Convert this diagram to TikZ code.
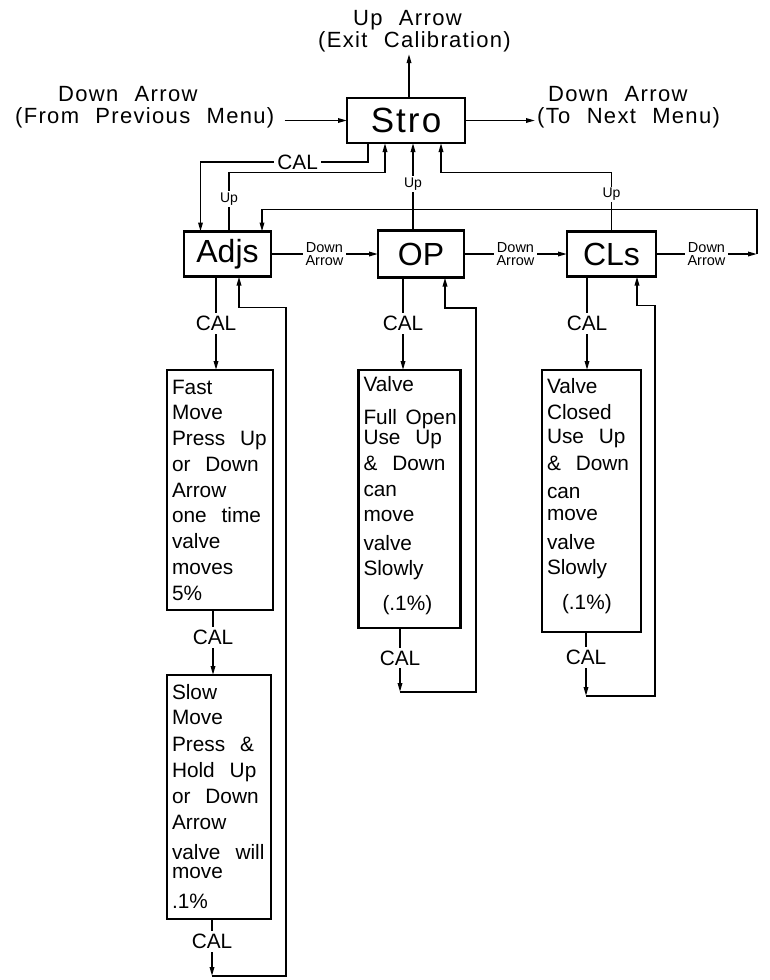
\documentclass[tikz,border=0pt]{standalone}
\usepackage{fontspec}
\setmainfont{Liberation Sans}
\newfontfamily\widefont[WordSpace=2.2,LetterSpace=6]{Liberation Sans}
\newcommand{\wsp}{\nobreak\hspace{0.72em}}
\usetikzlibrary{arrows.meta, positioning, calc}

\begin{document}
\begin{tikzpicture}[
    x=1pt, y=-1pt,
    % Styles
    menubox/.style={rectangle, draw, line width=2.2pt, outer sep=0pt, minimum height=45pt, inner sep=0pt, font={\fontsize{32}{32}\selectfont}},
    infobox/.style={rectangle, draw, line width=2.2pt, outer sep=0pt, align=left, inner xsep=5pt, inner ysep=0pt, font={\fontsize{20.8}{25.75}\selectfont}},
    sidelbl/.style={align=left, inner sep=2pt, font={\widefont\fontsize{22}{22}\selectfont}},
    arrow/.style={-{Triangle[length=9pt, width=4.5pt]}, line width=1.6pt},
    lbl/.style={fill=white, inner sep=3pt, font={\fontsize{20.8}{22}\selectfont}},
    uplbl/.style={fill=white, inner sep=1.5pt, font={\fontsize{14}{14}\selectfont}},
    dnlbl/.style={fill=white, inner xsep=3pt, inner ysep=1pt, align=center, font={\fontsize{14.5}{13}\selectfont}}
]
\useasboundingbox (0,0) rectangle (770,980);

% 1. STRO MENU
\node[menubox, minimum width=118pt, font={\widefont\fontsize{35}{35}\selectfont}] (stro) at (406,120.5) {Stro};
\node[sidelbl, anchor=west] (exit) at (316,31) {\hspace*{35pt}Up Arrow\\(Exit Calibration)};
\node[sidelbl, anchor=west] (prev) at (13,107) {\hspace*{43pt}Down Arrow\\(From Previous Menu)};
\node[sidelbl, anchor=west] (next) at (535,107) {\hspace*{11pt}Down Arrow\\(To Next Menu)};

\coordinate (exitpt) at ($(stro.north)+(3,0)$);
\draw[arrow] (exitpt) -- (exitpt |- exit.south);
\draw[arrow] ($(prev.east |- stro.west)+(8,0)$) -- (stro.west);
\draw[arrow] (stro.east) -- (stro.east -| next.west);

% 2. SUB MENUS
\node[menubox, minimum width=87pt] (adjs) at (227.5,254) {Adjs};
\node[menubox, minimum width=86pt, minimum height=47pt] (op) at (421,254) {OP};
\node[menubox, minimum width=89pt] (cls) at (611.5,254) {CLs};
\coordinate (wrap) at (757,254);

% Stro <-> sub menus
\draw[arrow] ($(stro.south)+(-38,0)$) -- ++(0,19) -| node[lbl, pos=0.21] {CAL} ($(adjs.north)+(-27,0)$);
\draw[arrow] ($(adjs.north)+(1.5,0)$) -- node[uplbl, pos=0.55] {Up} ++(0,-59) -| ($(stro.south)+(-21,0)$);
\draw[arrow] ($(op.north)+(-8,0)$) -- node[uplbl, pos=0.53] {Up} ($(stro.south)+(7,0)$);
\draw[arrow] (cls.north) -- node[uplbl, pos=0.63] {Up} ++(0,-59) -| ($(stro.south)+(35,0)$);

% Down arrow chain
\draw[arrow] (adjs) -- node[dnlbl] {Down\\Arrow} (op);
\draw[arrow] (op) -- node[dnlbl] {Down\\Arrow} (cls);
\draw[arrow] (cls) -- node[dnlbl] {Down\\Arrow} (wrap);
\draw[arrow] (wrap) |- ($(adjs.north)+(34.5,-22)$) -- ($(adjs.north)+(34.5,0)$);

% 3. ADJUST BOXES
\node[infobox, text width=96pt, minimum height=240pt, below=93.5pt of adjs, xshift=-7.5pt] (fast) {
    Fast\\Move\\Press\wsp Up\\or\wsp Down\\Arrow\\one\wsp time\\valve\\moves\\5\%};
\node[infobox, text width=94pt, minimum height=244pt, below=65pt of fast, xshift=-1pt] (slow) {
    Slow\\[-1pt]Move\\[1pt]Press\wsp\&\\Hold\wsp Up\\[1pt]or\wsp Down\\Arrow\\[4pt]valve\wsp will\\[-7pt]move\\[5pt].1\%};

\coordinate (adjcal) at ($(adjs.south)+(-11.5,0)$);
\coordinate (fastcal) at ($(fast.south)+(-7,0)$);
\coordinate (adjret) at ($(slow.south)+(-7,57)$);
\draw[arrow] (adjcal) -- node[lbl] {CAL} (adjcal |- fast.north);
\draw[arrow] (fastcal) -- node[lbl, pos=0.42] {CAL} (fastcal |- slow.north);
\draw[arrow] (slow.south -| adjret) -- node[lbl, pos=0.4] {CAL} (adjret);
\draw[arrow] (adjret) -- ++(74,0) |- ($(adjs.south)+(11.5,31)$) -- ($(adjs.south)+(11.5,0)$);

% 4. OPEN BOX
\node[infobox, text width=92pt, minimum height=258pt, below=92.5pt of op, xshift=-11.5pt] (opv) {
    Valve\\[7pt]Full\nobreak\hspace{0.42em}Open\\[-6pt]Use\wsp Up\\[1pt]\&\wsp Down\\can\\[-1pt]move\\[3pt]valve\\Slowly\\[9pt]\hspace*{19pt}(.1\%)\\[-15pt]\mbox{}};

\coordinate (opcal) at ($(op.south)+(-18,0)$);
\coordinate (opret) at ($(opv.south)+(-9.5,64)$);
\draw[arrow] (opcal) -- node[lbl] {CAL} (opcal |- opv.north);
\draw[arrow] (opv.south -| opret) -- node[lbl, pos=0.47] {CAL} (opret);
\draw[arrow] (opret) -- ++(76,0) |- ($(op.south)+(24,30.5)$) -- ($(op.south)+(24,0)$);

% 5. CLOSED BOX
\node[infobox, text width=89pt, minimum height=262pt, below=93.5pt of cls, xshift=-20pt] (clv) {
    Valve\\Closed\\[-2pt]Use\wsp Up\\[2pt]\&\wsp Down\\[2pt]can\\[-4pt]move\\[3pt]valve\\Slowly\\[9pt]\hspace*{15pt}(.1\%)\\[-12pt]\mbox{}};

\coordinate (clscal) at ($(cls.south)+(-24.5,0)$);
\coordinate (clsret) at ($(clv.south)+(-5.5,64)$);
\draw[arrow] (clscal) -- node[lbl] {CAL} (clscal |- clv.north);
\draw[arrow] (clv.south -| clsret) -- node[lbl, pos=0.4] {CAL} (clsret);
\draw[arrow] (clsret) -- ++(69,0) |- ($(cls.south)+(25.5,29)$) -- ($(cls.south)+(25.5,0)$);

\end{tikzpicture}
\end{document}
